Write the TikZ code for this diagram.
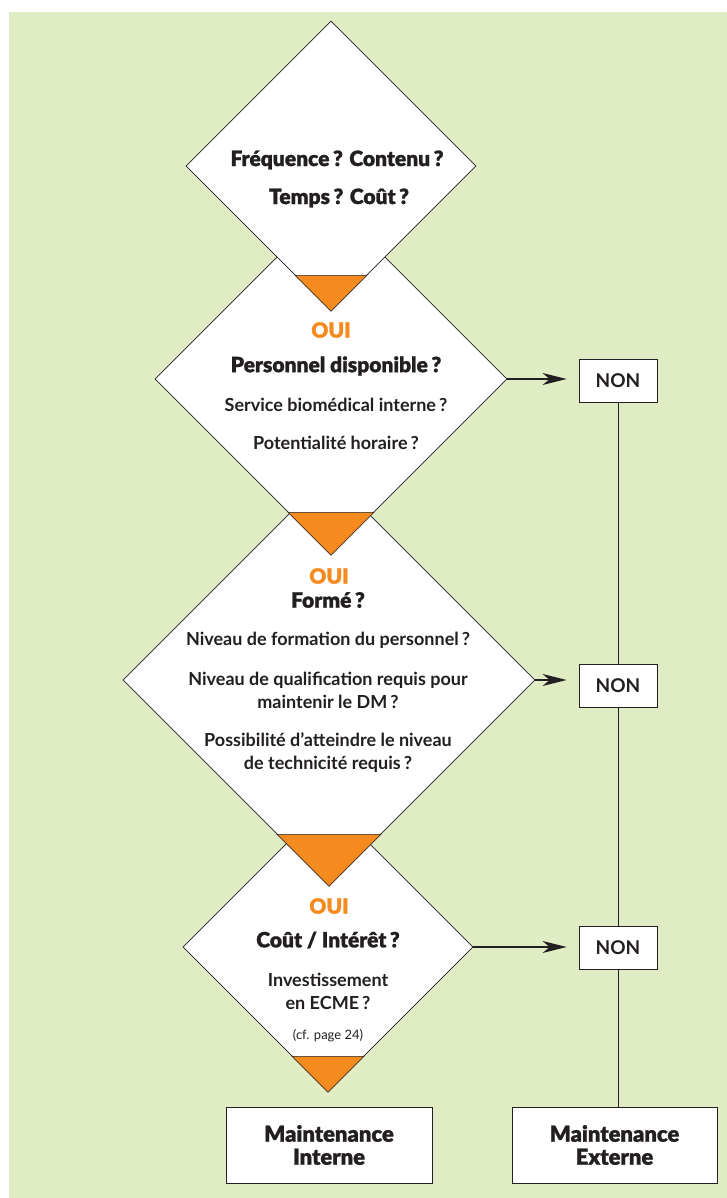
\documentclass[tikz,border=0pt]{standalone}
\usepackage{fontspec}
\setmainfont{Lato}
\newfontfamily\heavyfont{Lato Black}[FakeBold=1.2]
\usetikzlibrary{shapes.geometric,arrows.meta}
\definecolor{bgcolor}{HTML}{E0ECC4}
\definecolor{ouicolor}{HTML}{F58B1F}
\definecolor{inkcolor}{HTML}{231F20}
\tikzstyle{question} = [
    diamond,
    aspect=1,
    draw=inkcolor,
    fill=white,
    line width=0.6pt,
    inner sep=0pt
    ]
\tikzstyle{ouitip} = [
    fill=ouicolor,
    draw=inkcolor,
    line width=0.6pt
    ]
\tikzstyle{oui} = [text=ouicolor, font=\heavyfont\fontsize{21}{24}\selectfont]
\tikzstyle{heavy} = [text=inkcolor, align=center, font=\heavyfont\fontsize{21}{24}\selectfont]
\tikzstyle{plain} = [text=inkcolor, align=center, font=\bfseries\fontsize{18}{23}\selectfont]
\tikzstyle{nonbox} = [
    draw=inkcolor,
    fill=white,
    rectangle,
    line width=0.8pt,
    minimum width=78pt,
    minimum height=43pt,
    text=inkcolor,
    font=\bfseries\fontsize{19}{22}\selectfont
    ]
\tikzstyle{endbox} = [
    draw=inkcolor,
    fill=white,
    rectangle,
    line width=0.8pt,
    minimum width=206pt,
    minimum height=76pt,
    align=center,
    text=inkcolor,
    font=\heavyfont\fontsize{22}{23}\selectfont
    ]
\tikzstyle{goes} = [-{Stealth[length=24pt,width=12pt,inset=7pt]}, line width=1.4pt, draw=inkcolor, shorten >=12pt]

\begin{document}
\begin{tikzpicture}[x=1pt,y=-1pt]
\useasboundingbox (0,0) rectangle (727,1198);
\fill[bgcolor] (9,12) rectangle (727,1198);

% diamonds, from bottom to top so each one covers the next
\node[question, minimum width=290pt, minimum height=290pt] (d4) at (328,947) {};
\filldraw[ouitip] (d4.south) -- ++(-36,-36) -- ++(72,0) -- cycle;
\node[question, minimum width=412pt, minimum height=412pt] (d3) at (329,680) {};
\filldraw[ouitip] (d3.south) -- ++(-52,-52) -- ++(104,0) -- cycle;
\node[question, minimum width=352pt, minimum height=352pt] (d2) at (331,379) {};
\filldraw[ouitip] (d2.south) -- ++(-43,-43) -- ++(86,0) -- cycle;
\node[question, minimum width=290pt, minimum height=290pt] (d1) at (331,166) {};
\filldraw[ouitip] (d1.south) -- ++(-36,-36) -- ++(72,0) -- cycle;

% texts
\node[heavy] (q1a) at (337,160) {Fréquence\,? Contenu\,?};
\node[heavy] (q1b) at (339,198) {Temps\,? Coût\,?};

\node[oui] (oui2) at (331,330) {OUI};
\node[heavy] (q2a) at (336,366) {Personnel disponible\,?};
\node[plain] (q2b) at (336,405) {Service biomédical interne\,?};
\node[plain] (q2c) at (336,443) {Potentialité horaire\,?};

\node[oui] (oui3) at (329,576) {OUI};
\node[heavy] (q3a) at (328,600) {Formé\,?};
\node[plain] (q3b) at (328,640) {Niveau de formation du personnel\,?};
\node[plain] (q3c) at (328,690) {Niveau de qualification requis pour\\maintenir le DM\,?};
\node[plain] (q3d) at (328,753) {Possibilité d’atteindre le niveau\\de technicité requis\,?};

\node[oui] (oui4) at (329,906) {OUI};
\node[heavy] (q4a) at (328,940) {Coût / Intérêt\,?};
\node[plain] (q4b) at (328,991) {Investissement\\en ECME\,?};
\node[text=inkcolor, font=\fontsize{13}{15}\selectfont] (q4c) at (328,1036) {(cf. page 24)};

% answers
\node[nonbox] (non1) at (618,380.5) {NON};
\node[nonbox] (non2) at (618,685.5) {NON};
\node[nonbox] (non3) at (618,948) {NON};
\node[endbox] (interne) at (329,1145) {Maintenance\\Interne};
\node[endbox, minimum width=205pt] (externe) at (614.5,1145) {Maintenance\\Externe};

\draw[goes] (d2.east) -- (d2.east -| non1.west);
\draw[goes] (d3.east) -- (d3.east -| non2.west);
\draw[goes] (d4.east) -- (d4.east -| non3.west);

\draw[inkcolor, line width=0.8pt] (non1) -- (non2);
\draw[inkcolor, line width=0.8pt] (non2) -- (non3);
\draw[inkcolor, line width=0.8pt] (non3.south) -- (non3.south |- externe.north);
\end{tikzpicture}
\end{document}
